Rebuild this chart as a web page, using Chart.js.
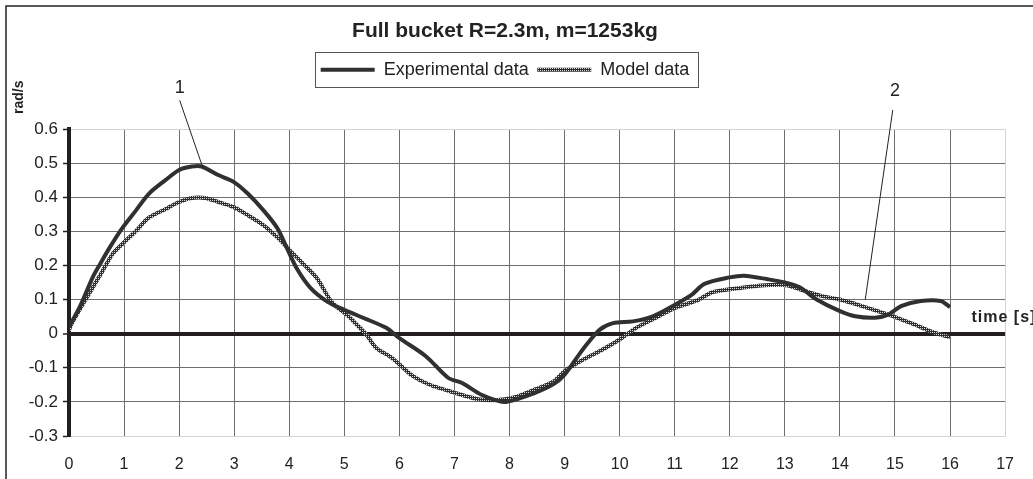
<!DOCTYPE html>
<html><head><meta charset="utf-8">
<script src="https://cdn.jsdelivr.net/npm/chart.js@4.4.1/dist/chart.umd.min.js"></script>
<style>html,body{margin:0;padding:0;background:#fff}#wrap{width:1033px;height:479px;position:relative}</style>
</head><body><div id="wrap"><canvas id="c" width="1033" height="479"></canvas></div>
<script>
const chartTitle = 'Full bucket R=2.3m, m=1253kg';
const seriesNames = ['Experimental data', 'Model data'];
const yAxisLabel = 'rad/s';
const xAxisLabel = 'time [s]';

const xTickValues = [0,1,2,3,4,5,6,7,8,9,10,11,12,13,14,15,16,17];
const yTickValues = [-0.3,-0.2,-0.1,0,0.1,0.2,0.3,0.4,0.5,0.6];
const yTickLabels = ['-0.3','-0.2','-0.1','0','0.1','0.2','0.3','0.4','0.5','0.6'];

const expTime = [0,0.2,0.43,0.55,0.73,0.97,1.21,1.45,1.75,2.0,2.23,2.41,2.71,2.99,3.25,3.54,3.78,3.96,4.14,4.38,4.69,5.0,5.35,5.76,6.0,6.48,6.89,7.13,7.5,7.79,7.95,8.44,8.8,9.0,9.22,9.4,9.64,9.88,10.24,10.59,10.95,11.3,11.54,12.0,12.26,12.67,13.0,13.27,13.57,14.0,14.28,14.64,14.88,15.11,15.47,15.83,16.0];
const expValues = [0.02,0.08,0.165,0.2,0.25,0.31,0.36,0.41,0.45,0.48,0.49,0.49,0.465,0.445,0.41,0.36,0.31,0.25,0.19,0.135,0.094,0.07,0.046,0.017,-0.013,-0.066,-0.13,-0.144,-0.18,-0.197,-0.2,-0.175,-0.148,-0.12,-0.071,-0.032,0.012,0.031,0.036,0.05,0.08,0.113,0.146,0.165,0.17,0.16,0.15,0.136,0.101,0.066,0.051,0.047,0.056,0.081,0.096,0.096,0.078];

const modelTime = [0,0.04,0.25,0.43,0.61,0.79,0.97,1.21,1.45,1.75,2.0,2.23,2.47,2.71,2.99,3.25,3.54,3.78,4.02,4.26,4.5,4.78,5.05,5.23,5.4,5.58,5.82,6.0,6.24,6.54,7.0,7.43,7.73,8.08,8.44,8.8,9.0,9.34,9.64,10.0,10.3,10.65,11.0,11.43,11.66,12.0,12.49,13.0,13.27,13.68,14.0,14.4,14.88,15.35,15.65,16.0];
const modelValues = [0.01,0.027,0.086,0.135,0.184,0.233,0.263,0.3,0.34,0.365,0.386,0.398,0.398,0.386,0.371,0.347,0.317,0.283,0.243,0.204,0.163,0.091,0.055,0.026,-0.003,-0.042,-0.066,-0.09,-0.124,-0.149,-0.173,-0.192,-0.195,-0.187,-0.165,-0.14,-0.11,-0.076,-0.051,-0.017,0.017,0.046,0.075,0.099,0.12,0.13,0.14,0.143,0.13,0.11,0.1,0.081,0.056,0.027,0.007,-0.011];

// callout annotations in data units: [text, textX, textY, lineFromX, lineFromY, lineToX, lineToY]
const callouts = [
  ['1', 2.01, 0.719, 2.01, 0.684, 2.43, 0.487],
  ['2', 15.0, 0.710, 14.96, 0.656, 14.46, 0.10]
];
const timeLabelAt = [16.39, 0.046];
const yLabelAt = 0.693;

const FONT = '"Liberation Sans", Arial, sans-serif';

function makePattern() {
  const c = document.createElement('canvas'); c.width = 2; c.height = 2;
  const g = c.getContext('2d');
  g.fillStyle = '#2e2e2e'; g.fillRect(0, 0, 2, 2);
  g.fillStyle = '#d8d8d8'; g.fillRect(0, 0, 1, 1);
  return g.createPattern(c, 'repeat');
}
const modelPattern = makePattern();

const toXY = (xs, ys) => xs.map((x, i) => ({x, y: ys[i]}));

const decor = {
  id: 'decor',
  afterDraw(chart) {
    const {ctx, chartArea, scales: {x, y}, legend} = chart;
    ctx.save();
    // outer frame
    ctx.strokeStyle = '#222'; ctx.lineWidth = 1.5;
    ctx.strokeRect(6, 6, chart.width + 50, chart.height + 50);
    // legend box
    const hb = legend.legendHitBoxes;
    const l = Math.min(...hb.map(h => h.left)) - 6;
    const r = Math.max(...hb.map(h => h.left + h.width)) + 8;
    const t = hb[0].top - 9, b = hb[0].top + hb[0].height + 8;
    ctx.lineWidth = 1; ctx.strokeStyle = '#555';
    ctx.strokeRect(Math.round(l) + 0.5, Math.round(t) + 0.5, Math.round(r - l), Math.round(b - t));
    // y label
    ctx.fillStyle = '#222';
    ctx.save();
    ctx.font = 'bold 14px ' + FONT;
    ctx.translate(chartArea.left - 50, y.getPixelForValue(yLabelAt));
    ctx.rotate(-Math.PI / 2);
    ctx.textAlign = 'center'; ctx.textBaseline = 'middle';
    ctx.fillText(yAxisLabel, 0, 0);
    ctx.restore();
    // time label
    ctx.save();
    ctx.font = 'bold 16px ' + FONT;
    if ('letterSpacing' in ctx) ctx.letterSpacing = '1px';
    ctx.textAlign = 'left'; ctx.textBaseline = 'middle';
    ctx.fillText(xAxisLabel, x.getPixelForValue(timeLabelAt[0]), y.getPixelForValue(timeLabelAt[1]));
    ctx.restore();
    // callouts
    ctx.font = '18px ' + FONT;
    ctx.textAlign = 'center'; ctx.textBaseline = 'middle';
    ctx.strokeStyle = '#222'; ctx.lineWidth = 1;
    callouts.forEach(c => {
      ctx.fillText(c[0], x.getPixelForValue(c[1]), y.getPixelForValue(c[2]));
      ctx.beginPath();
      ctx.moveTo(x.getPixelForValue(c[3]), y.getPixelForValue(c[4]));
      ctx.lineTo(x.getPixelForValue(c[5]), y.getPixelForValue(c[6]));
      ctx.stroke();
    });
    ctx.restore();
  }
};

const isZero = v => Math.abs(v) < 1e-9;

new Chart(document.getElementById('c'), {
  type: 'line',
  data: {
    datasets: [
      {label: seriesNames[0], data: toXY(expTime, expValues), borderColor: '#303030', backgroundColor: '#303030',
       borderWidth: 4, pointRadius: 0, pointStyle: 'line', tension: 0.3, xAxisID: 'x', yAxisID: 'y'},
      {label: seriesNames[1], data: toXY(modelTime, modelValues), borderColor: modelPattern, backgroundColor: modelPattern,
       borderWidth: 4, pointRadius: 0, pointStyle: 'line', tension: 0.3, xAxisID: 'x', yAxisID: 'y'}
    ]
  },
  options: {
    responsive: false,
    animation: false,
    devicePixelRatio: 1,
    layout: {padding: {top: 7, left: 3, right: 26, bottom: 0}},
    plugins: {
      title: {display: true, text: chartTitle, color: '#222', font: {family: FONT, size: 21, weight: 'bold'},
              padding: {top: 12, bottom: 8}},
      legend: {display: true, position: 'top',
               labels: {usePointStyle: true, pointStyleWidth: 54, padding: 8.5, color: '#222',
                        font: {family: FONT, size: 18}}},
      tooltip: {enabled: false}
    },
    scales: {
      x: {
        type: 'linear', position: 'bottom', min: 0, max: 17,
        afterBuildTicks: s => { s.ticks = xTickValues.map(v => ({value: v})); },
        afterFit: s => { s.height = 43; },
        ticks: {color: '#222', padding: 19, font: {family: FONT, size: 16}, callback: v => String(v)},
        grid: {drawTicks: false,
               color: c => isZero(c.tick.value) ? 'rgba(0,0,0,0)' : (c.tick.value === 17 ? '#d4d4d4' : '#6e6e6e'),
               lineWidth: 1},
        border: {color: '#d4d4d4', width: 1}
      },
      xTop: {
        type: 'linear', position: 'top', min: 0, max: 17, display: true,
        afterFit: s => { s.height = 40.3; },
        ticks: {display: false}, grid: {display: false}, border: {display: false}
      },
      y: {
        type: 'linear', position: 'left', min: -0.3, max: 0.6,
        afterBuildTicks: s => { s.ticks = yTickValues.map(v => ({value: v})); },
        afterFit: s => { s.width = 66; },
        ticks: {color: '#222', padding: 5, font: {family: FONT, size: 17},
                callback: (v, i) => yTickLabels[i]},
        grid: {
          color: c => isZero(c.tick.value) ? '#231f20' : ((c.index === 0 || c.index === yTickValues.length - 1) ? '#d4d4d4' : '#6e6e6e'),
          lineWidth: c => isZero(c.tick.value) ? 4 : 1,
          tickColor: '#231f20', tickLength: 6, tickWidth: 1.5
        },
        border: {color: '#231f20', width: 4}
      }
    }
  },
  plugins: [decor]
});
</script>
</body></html>
